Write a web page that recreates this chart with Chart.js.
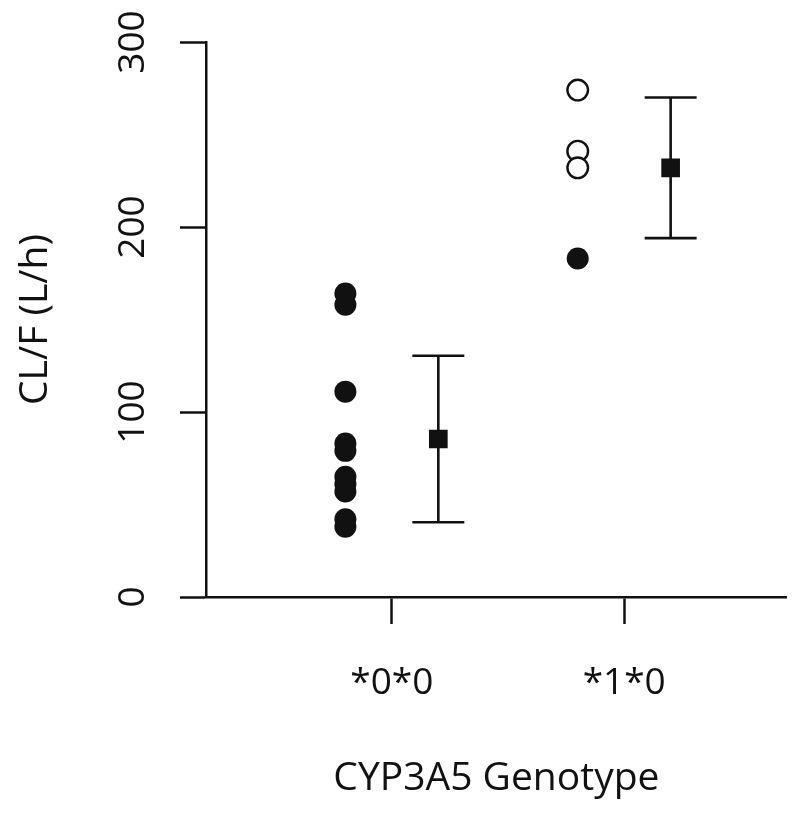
<!DOCTYPE html>
<html><head><meta charset="utf-8">
<script src="https://cdn.jsdelivr.net/npm/chart.js@4.4.1/dist/chart.umd.min.js"></script>
<style>html,body{margin:0;padding:0;background:#fff;}#wrap{width:800px;height:814px;}</style>
</head><body><div id="wrap"><canvas id="c" width="800" height="814"></canvas></div>
<script>
// ---- data ----
const categories = ['*0*0', '*1*0'];
const filledValues = [[164, 158, 111, 83, 79, 65, 61, 57, 42, 38], [183]];
const openValues = [[], [274, 241, 232]];
const means = [85.4, 232];
const sds = [45, 38];
const yTicks = [0, 100, 200, 300];
const xTitle = 'CYP3A5 Genotype';
const yTitle = 'CL/F (L/h)';

// ---- styling / layout ----
const INK = '#111111';
const FONT = "'Open Sans', sans-serif";
const DOT_SHIFT = -0.2, MEAN_SHIFT = 0.2;

const filledPts = [], openPts = [], meanPts = [];
categories.forEach((c, i) => {
  filledValues[i].forEach(v => filledPts.push({x: i + 1 + DOT_SHIFT, y: v}));
  openValues[i].forEach(v => openPts.push({x: i + 1 + DOT_SHIFT, y: v}));
  meanPts.push({x: i + 1 + MEAN_SHIFT, y: means[i]});
});

const errorBarPlugin = {
  id: 'errorBars',
  beforeDatasetsDraw(chart) {
    const {ctx, scales: {x, y}} = chart;
    ctx.save();
    ctx.strokeStyle = INK; ctx.lineWidth = 2.6; ctx.lineCap = 'butt';
    means.forEach((m, i) => {
      const px = x.getPixelForValue(i + 1 + MEAN_SHIFT);
      const top = y.getPixelForValue(m + sds[i]);
      const bot = y.getPixelForValue(m - sds[i]);
      ctx.beginPath();
      ctx.moveTo(px, top); ctx.lineTo(px, bot);
      ctx.moveTo(px - 26, top); ctx.lineTo(px + 26, top);
      ctx.moveTo(px - 26, bot); ctx.lineTo(px + 26, bot);
      ctx.stroke();
    });
    ctx.restore();
  }
};

Chart.defaults.font.family = FONT;
Chart.defaults.color = INK;

new Chart(document.getElementById('c'), {
  type: 'scatter',
  data: {
    datasets: [
      {data: filledPts, pointStyle: 'circle', pointRadius: 11, backgroundColor: INK, borderWidth: 0},
      {data: openPts, pointStyle: 'circle', pointRadius: 10.3, backgroundColor: '#ffffff', borderColor: INK, borderWidth: 2.4},
      {data: meanPts, pointStyle: 'rect', pointRadius: 13.2, backgroundColor: INK, borderWidth: 0}
    ]
  },
  options: {
    responsive: false,
    animation: false,
    events: [],
    layout: {padding: {left: 0, top: 42, right: 11, bottom: 0}},
    plugins: {legend: {display: false}, tooltip: {enabled: false}},
    scales: {
      x: {
        type: 'linear', min: 0.2, max: 2.7,
        afterBuildTicks: s => { s.ticks = categories.map((c, i) => ({value: i + 1})); },
        afterFit: s => { s.height = 217; },
        border: {display: true, color: INK, width: 2.5},
        grid: {drawOnChartArea: false, drawTicks: true, tickLength: 27, tickWidth: 2.5, tickColor: INK, color: INK},
        ticks: {
          padding: 37, font: {size: 37, family: FONT}, color: INK, maxRotation: 0, minRotation: 0,
          autoSkip: false,
          callback: v => categories[Math.round(v) - 1] || ''
        },
        title: {display: true, text: xTitle, font: {size: 39, family: FONT}, color: INK, padding: {top: 0, bottom: 12}}
      },
      y: {
        type: 'linear', min: 0, max: 300,
        afterBuildTicks: s => { s.ticks = yTicks.map(v => ({value: v})); },
        afterFit: s => { s.width = 206; },
        border: {display: true, color: INK, width: 2.5},
        grid: {drawOnChartArea: false, drawTicks: true, tickLength: 26, tickWidth: 2.5, tickColor: INK, color: INK},
        ticks: {
          padding: 15, font: {size: 37, family: FONT}, color: INK,
          minRotation: 90, maxRotation: 90, crossAlign: 'center', autoSkip: false
        },
        title: {display: true, text: yTitle, font: {size: 39, family: FONT}, color: INK, padding: {top: 12.8, bottom: 0}}
      }
    }
  },
  plugins: [errorBarPlugin]
});
</script></body></html>
